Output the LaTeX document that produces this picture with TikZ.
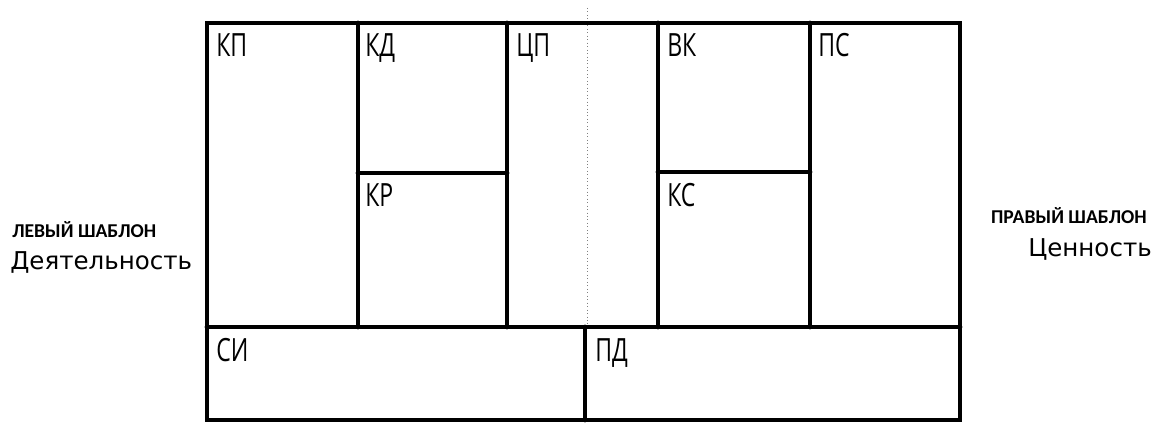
\documentclass[tikz,border=0pt]{standalone}
\usepackage{fontspec}
\setmainfont{DejaVu Sans}
\newfontfamily\condfont[FakeStretch=0.72]{Open Sans}
\newfontfamily\sidefont{DejaVu Sans}
\newfontfamily\headfont{Carlito Bold}
\begin{document}
\begin{tikzpicture}[x=0.75pt,y=-0.75pt,
  wall/.style={line width=3.6pt,line cap=round},
  cell/.style={font=\condfont\fontsize{24}{24}\selectfont,anchor=north west,inner sep=0pt},
  title/.style={font=\headfont\fontsize{14.7}{15}\selectfont,inner sep=0pt},
  sub/.style={font=\sidefont\fontsize{18.4}{20}\selectfont,inner sep=0pt}]
\useasboundingbox[fill=white] (0,0) rectangle (1156,423);
% dotted centre line
\coordinate (dtop) at (587,8);
\coordinate (dbot) at (587,327);
\draw[gray,line width=0.6pt,dotted] (dtop) -- (dbot);
% frame
\coordinate (tl) at (207,23);
\coordinate (tr) at (960,23);
\coordinate (bl) at (207,420);
\coordinate (br) at (960,420);
\draw[wall] (tl) -- (tr) -- (br) -- (bl) -- cycle;
% row separator
\coordinate (rl) at (207,327);
\coordinate (rr) at (960,327);
\draw[wall] (rl) -- (rr);
% verticals in upper part
\draw[wall] (358,23) -- (358,327);
\draw[wall] (507,23) -- (507,327);
\draw[wall] (658,23) -- (658,327);
\draw[wall] (810,23) -- (810,327);
% inner horizontals
\draw[wall] (358,173) -- (507,173);
\draw[wall] (658,172) -- (810,172);
% bottom divider
\draw[wall] (585,327) -- (585,420);
% cell labels
\node[cell] (kp) at (216,33) {КП};
\node[cell] (kd) at (365,33) {КД};
\node[cell] (cp) at (516,33) {ЦП};
\node[cell] (vk) at (667,33) {ВК};
\node[cell] (ps) at (818,33) {ПС};
\node[cell] (kr) at (365,183) {КР};
\node[cell] (ks) at (667,183) {КС};
\node[cell] (si) at (216,338) {СИ};
\node[cell] (pd) at (595,338) {ПД};
% side texts
\node[title,anchor=north west] (lt) at (12,221) {ЛЕВЫЙ ШАБЛОН};
\node[sub,anchor=base west] (ls) at (10,270) {Деятельность};
\node[title,anchor=north east] (rt) at (1147,207) {ПРАВЫЙ ШАБЛОН};
\node[sub,anchor=base east] (rs) at (1152,257) {Ценность};
\end{tikzpicture}
\end{document}
